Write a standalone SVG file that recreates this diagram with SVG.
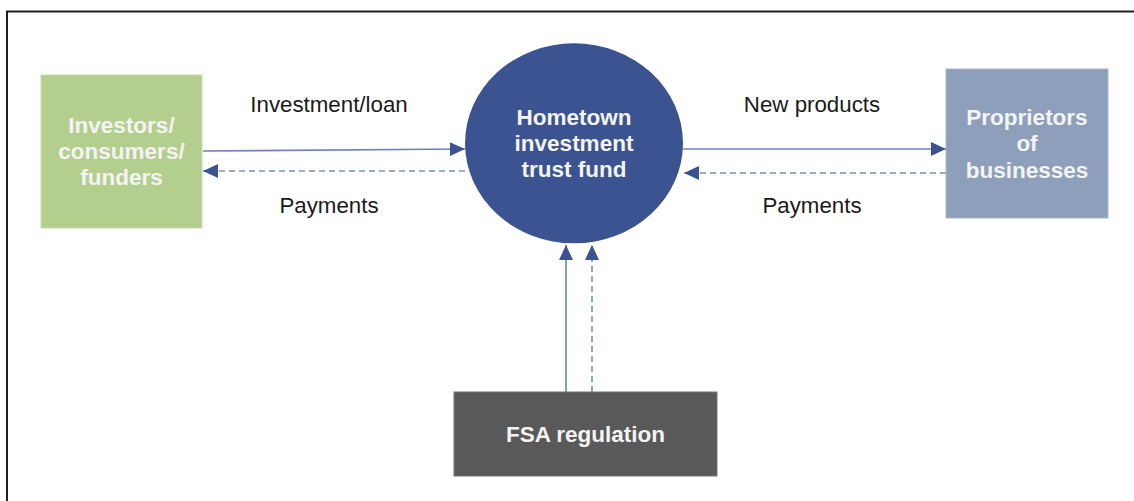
<svg xmlns="http://www.w3.org/2000/svg" width="1134" height="501" viewBox="0 0 1134 501">
  <style>
    .node-text { font-family: "Liberation Sans", Arial, sans-serif; font-size: 22.5px; font-weight: bold; fill: #f4f4f4; text-anchor: middle; }
    .label { font-family: "Liberation Sans", Arial, sans-serif; font-size: 22.3px; fill: #1a1a1a; text-anchor: middle; }
    .solid { stroke: #6f82b6; stroke-width: 1.6; fill: none; }
    .dashed { stroke: #7b8dbd; stroke-width: 1.6; fill: none; stroke-dasharray: 6 4; }
  </style>
  <defs>
    <marker id="arrow" markerUnits="userSpaceOnUse" markerWidth="16" markerHeight="16" viewBox="0 0 16 16" refX="15" refY="8" orient="auto">
      <path d="M0,1 L15,8 L0,15 Z" fill="#3b5390"/>
    </marker>
  </defs>
  <rect x="0" y="0" width="1134" height="501" fill="#ffffff"/>
  <path d="M7,501 V11.5 H1134" fill="none" stroke="#1f1f1f" stroke-width="2"/>

  <g id="connectors">
    <line class="solid" x1="203" y1="151" x2="465" y2="149" marker-end="url(#arrow)"/>
    <line class="dashed" x1="465" y1="171" x2="203" y2="171" marker-end="url(#arrow)"/>
    <line class="solid" x1="683" y1="149" x2="946" y2="149" marker-end="url(#arrow)"/>
    <line class="dashed" x1="946" y1="173" x2="684" y2="173" marker-end="url(#arrow)"/>
    <line class="solid" x1="566" y1="392" x2="566" y2="245" marker-end="url(#arrow)"/>
    <line class="dashed" x1="592" y1="392" x2="592" y2="245" marker-end="url(#arrow)"/>
    <text class="label" x="329" y="112">Investment/loan</text>
    <text class="label" x="329" y="213">Payments</text>
    <text class="label" x="812" y="112">New products</text>
    <text class="label" x="812" y="213">Payments</text>
  </g>

  <g id="investors">
    <rect x="41" y="75" width="161" height="153" fill="#b4ce8e" stroke="#c9dcae" stroke-width="1"/>
    <text class="node-text" x="121.5" y="133">Investors/</text>
    <text class="node-text" x="121.5" y="159">consumers/</text>
    <text class="node-text" x="121.5" y="185">funders</text>
  </g>

  <g id="fund">
    <ellipse cx="574" cy="143.3" rx="109" ry="100" fill="#3b5390"/>
    <text class="node-text" x="574" y="125">Hometown</text>
    <text class="node-text" x="574" y="151">investment</text>
    <text class="node-text" x="574" y="177">trust fund</text>
  </g>

  <g id="proprietors">
    <rect x="946" y="69" width="162" height="149" fill="#8e9fbb" stroke="#a8b5cb" stroke-width="1"/>
    <text class="node-text" x="1027" y="125">Proprietors</text>
    <text class="node-text" x="1027" y="151">of</text>
    <text class="node-text" x="1027" y="177.5">businesses</text>
  </g>

  <g id="fsa">
    <rect x="454" y="392" width="263" height="84" fill="#595959" stroke="#777777" stroke-width="1"/>
    <text class="node-text" x="585.5" y="442">FSA regulation</text>
  </g>
</svg>
